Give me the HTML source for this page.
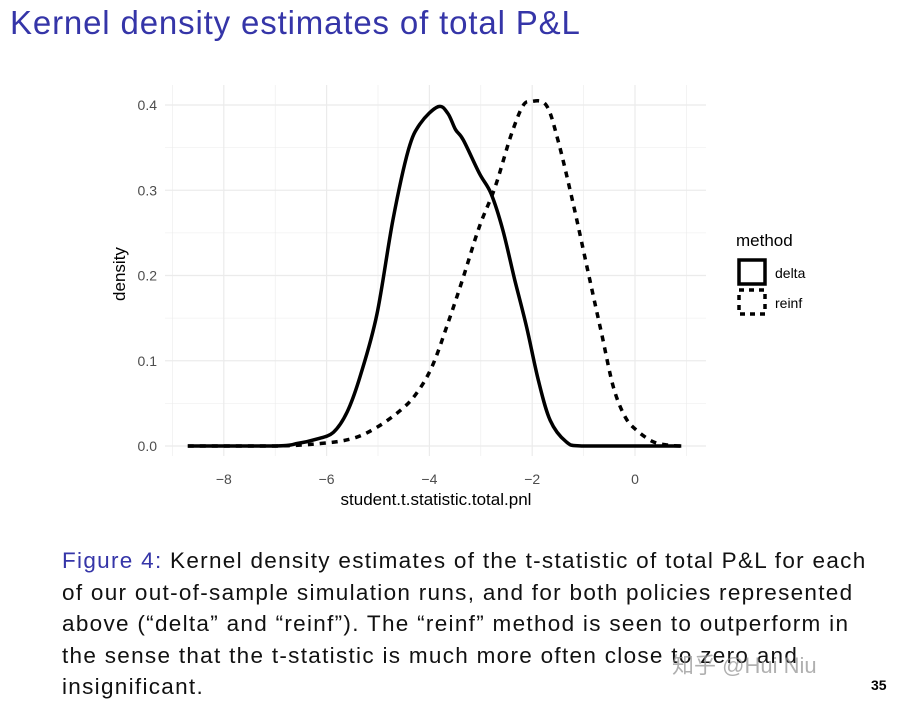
<!DOCTYPE html>
<html><head><meta charset="utf-8"><style>
body{margin:0;width:897px;height:699px;background:#fff;overflow:hidden;position:relative;font-family:"Liberation Sans","Noto Sans CJK SC",sans-serif}
.title{position:absolute;left:10px;top:4px;font-size:33px;letter-spacing:0.85px;color:#3535a8}
.cap{position:absolute;left:62px;top:545px;font-size:22.5px;line-height:31.5px;color:#111;letter-spacing:1.3px;white-space:nowrap}
.blue{color:#3535a8}
.wm{position:absolute;left:672px;top:648px;font-size:22px;color:rgba(150,150,150,0.75)}
.pg{position:absolute;left:871px;top:677px;font-size:14px;font-weight:bold}
</style></head><body>
<div class="title">Kernel density estimates of total P&amp;L</div>
<svg id="chart" width="897" height="540" style="position:absolute;left:0;top:0">
<g id="grid"></g><g id="axes"></g><g id="series"></g>
<text x="125" y="274" font-size="17" transform="rotate(-90 125 274)" text-anchor="middle">density</text>
<text x="436" y="505" font-size="17" text-anchor="middle">student.t.statistic.total.pnl</text>
<g>
<text x="736" y="246" font-size="17">method</text>
<rect x="739" y="260" width="26" height="24" fill="none" stroke="#000" stroke-width="3.5"/>
<text x="775" y="278" font-size="14">delta</text>
<rect x="739" y="290" width="26" height="24" fill="none" stroke="#000" stroke-width="3.5" stroke-dasharray="5 5"/>
<text x="775" y="308" font-size="14">reinf</text>
</g>
</svg>
<div class="cap"><span class="blue">Figure 4:</span> Kernel density estimates of the t-statistic of total P&amp;L for each<br>of our out-of-sample simulation runs, and for both policies represented<br>above (“delta” and “reinf”). The “reinf” method is seen to outperform in<br>the sense that the t-statistic is much more often close to zero and<br>insignificant.</div>
<div class="wm">知乎 @Hui Niu</div>
<div class="pg">35</div>
<script>
const xTicks=[-8,-6,-4,-2,0];
const yTicks=[0,0.1,0.2,0.3,0.4];
const deltaX=[-8.7,-7,-6.56,-6.2,-5.87,-5.6,-5.33,-5.02,-4.71,-4.41,-4.18,-3.83,-3.64,-3.49,-3.34,-3.03,-2.8,-2.57,-2.34,-2.11,-1.88,-1.65,-1.34,-1.04,0,0.9];
const deltaY=[0,0,0.003,0.008,0.016,0.04,0.085,0.155,0.265,0.347,0.378,0.398,0.39,0.371,0.359,0.32,0.296,0.253,0.195,0.14,0.077,0.03,0.005,0,0,0];
const reinfX=[-8.7,-7,-6.1,-5.48,-5.02,-4.56,-4.26,-3.95,-3.64,-3.34,-3.03,-2.72,-2.42,-2.19,-2.03,-1.73,-1.5,-1.19,-0.88,-0.65,-0.42,-0.19,0.04,0.35,0.65,0.9];
const reinfY=[0,0,0.003,0.009,0.022,0.042,0.061,0.093,0.144,0.198,0.257,0.304,0.363,0.398,0.404,0.4,0.359,0.281,0.195,0.132,0.069,0.034,0.018,0.005,0.001,0];
const NS="http://www.w3.org/2000/svg";
const sx=v=>635+v*51.4, sy=v=>446-v*852.5;
const grid=document.getElementById('grid'),axes=document.getElementById('axes'),ser=document.getElementById('series');
function mk(tag,attrs,parent){const e=document.createElementNS(NS,tag);for(const k in attrs)e.setAttribute(k,attrs[k]);parent.appendChild(e);return e;}
for(let v=-9;v<=1;v++){const l=mk('line',{x1:sx(v),x2:sx(v),y1:85,y2:456,stroke:'#ebebeb','stroke-width':v%2===0?1.2:0.6},grid);

}
for(let i=0;i<=8;i++){const v=i*0.05;const l=mk('line',{x1:165,x2:706,y1:sy(v),y2:sy(v),stroke:'#ebebeb','stroke-width':i%2===0?1.2:0.6},grid);

}
xTicks.forEach(v=>{const t=mk('text',{x:sx(v),y:484,'font-size':14,fill:'#4d4d4d','text-anchor':'middle'},axes);t.textContent=v<0?'\u2212'+(-v):v;

});
yTicks.forEach(v=>{const t=mk('text',{x:157,y:sy(v)+5,'font-size':14,fill:'#4d4d4d','text-anchor':'end'},axes);t.textContent=v.toFixed(1);

});
function path(xs,ys){
  const p=xs.map((x,i)=>[sx(x),Math.min(sy(ys[i]),446)]);
  let d='M'+p[0][0].toFixed(1)+','+p[0][1].toFixed(1);
  for(let i=0;i<p.length-1;i++){
    const p0=p[Math.max(i-1,0)],p1=p[i],p2=p[i+1],p3=p[Math.min(i+2,p.length-1)];
    let c1y=p1[1]+(p2[1]-p0[1])/6, c2y=p2[1]-(p3[1]-p1[1])/6;
    c1y=Math.min(c1y,446);c2y=Math.min(c2y,446);
    d+=' C'+(p1[0]+(p2[0]-p0[0])/6).toFixed(1)+','+c1y.toFixed(1)+' '+(p2[0]-(p3[0]-p1[0])/6).toFixed(1)+','+c2y.toFixed(1)+' '+p2[0].toFixed(1)+','+p2[1].toFixed(1);
  }
  return d;
}
const r=mk('path',{d:path(reinfX,reinfY),fill:'none',stroke:'#000','stroke-width':3.5,'stroke-dasharray':'6 6','stroke-linejoin':'round'},ser);


const d=mk('path',{d:path(deltaX,deltaY),fill:'none',stroke:'#000','stroke-width':3.5,'stroke-linejoin':'round'},ser);


</script>
</body></html>
